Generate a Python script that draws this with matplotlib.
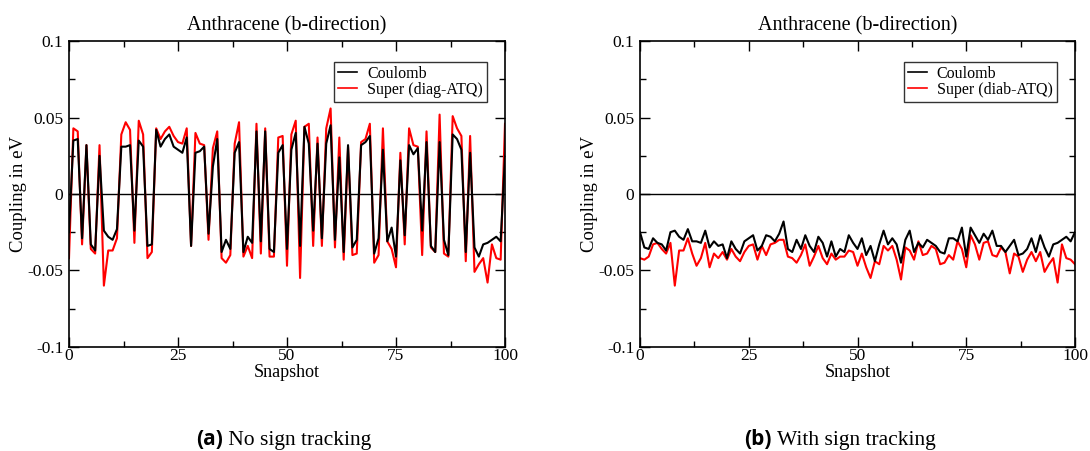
import numpy as np
import matplotlib
matplotlib.use("Agg")
import matplotlib.pyplot as plt
from matplotlib.ticker import MultipleLocator

# Electronic coupling (eV) per MD snapshot, raw sign as returned by each method
snapshots = list(range(101))
coulomb_raw = [
    -0.025, 0.035, 0.036, -0.029, 0.032, -0.033, -0.037, 0.025, -0.024, -0.028,
    -0.030, -0.023, 0.031, 0.031, 0.032, -0.024, 0.035, 0.031, -0.034, -0.033,
    0.042, 0.031, 0.036, 0.039, 0.031, 0.029, 0.027, 0.037, -0.034, 0.027,
    0.028, 0.031, -0.026, 0.018, 0.036, -0.038, -0.030, -0.036, 0.027, 0.034,
    -0.038, -0.028, -0.032, 0.041, -0.031, 0.041, -0.036, -0.038, 0.027, 0.032,
    -0.036, 0.029, 0.040, -0.034, 0.044, 0.033, -0.024, 0.033, -0.029, 0.033,
    0.045, -0.030, 0.024, -0.038, 0.032, -0.035, -0.030, 0.032, 0.034, 0.038,
    -0.039, -0.029, 0.029, -0.031, -0.022, -0.041, 0.022, -0.027, 0.032, 0.026,
    0.030, -0.024, 0.034, -0.034, -0.038, 0.034, -0.030, -0.040, 0.039, 0.036,
    0.029, -0.038, 0.027, -0.035, -0.041, -0.033, -0.032, -0.030, -0.028, -0.031,
    0.025,
]
super_raw = [
    -0.042, 0.043, 0.041, -0.033, 0.032, -0.036, -0.039, 0.032, -0.060, -0.037,
    -0.037, -0.029, 0.039, 0.047, 0.042, -0.032, 0.048, 0.039, -0.042, -0.038,
    0.043, 0.036, 0.041, 0.044, 0.038, 0.034, 0.033, 0.043, -0.034, 0.040,
    0.033, 0.032, -0.030, 0.030, 0.041, -0.042, -0.045, -0.040, 0.033, 0.047,
    -0.041, -0.034, -0.042, 0.046, -0.039, 0.043, -0.041, -0.041, 0.037, 0.038,
    -0.047, 0.039, 0.048, -0.055, 0.044, 0.046, -0.034, 0.037, -0.034, 0.043,
    0.056, -0.035, 0.037, -0.043, 0.031, -0.040, -0.039, 0.034, 0.036, 0.046,
    -0.045, -0.040, 0.043, -0.031, -0.036, -0.048, 0.027, -0.033, 0.043, 0.032,
    0.031, -0.040, 0.041, -0.035, -0.038, 0.052, -0.039, -0.041, 0.051, 0.043,
    0.038, -0.044, 0.038, -0.051, -0.046, -0.042, -0.058, -0.033, -0.042, -0.043,
    0.046,
]

x_ticks = [0, 25, 50, 75, 100]
y_ticks = [-0.1, -0.05, 0, 0.05, 0.1]
y_tick_labels = ["-0.1", "-0.05", "0", "0.05", "0.1"]
title = "Anthracene (b-direction)"
panel_tags = ["(a)", "(b)"]
panel_captions = ["No sign tracking", "With sign tracking"]
legend_labels = [("Coulomb", "Super (diag-ATQ)"), ("Coulomb", "Super (diab-ATQ)")]

# With sign tracking every coupling is brought to a common (negative) phase
coulomb_tracked = -np.abs(np.array(coulomb_raw))
super_tracked = -np.abs(np.array(super_raw))

SERIF = ["Liberation Serif", "DejaVu Serif"]
plt.rcParams["font.family"] = SERIF

W, H = 1090, 451
fig = plt.figure(figsize=(W / 100, H / 100), dpi=100)

def px_axes(x0, x1, y_top, y_bot):
    return fig.add_axes([x0 / W, 1 - y_bot / H, (x1 - x0) / W, (y_bot - y_top) / H])

ax_left = px_axes(69, 505, 41.3, 346.7)
ax_right = px_axes(640, 1075, 41.3, 346.7)

panels = [
    (ax_left, coulomb_raw, super_raw, legend_labels[0]),
    (ax_right, coulomb_tracked, super_tracked, legend_labels[1]),
]

for ax, c_vals, s_vals, labels in panels:
    ax.plot(snapshots, c_vals, color="black", lw=1.5, label=labels[0], zorder=3)
    ax.plot(snapshots, s_vals, color="#ff0000", lw=1.5, label=labels[1], zorder=2)
    ax.axhline(0, color="black", lw=1.0, zorder=1)
    ax.set_xlim(0, 100)
    ax.set_ylim(-0.1, 0.1)
    ax.set_xticks(x_ticks)
    ax.set_xticklabels([str(t) for t in x_ticks])
    ax.set_yticks(y_ticks)
    ax.set_yticklabels(y_tick_labels)
    ax.yaxis.set_minor_locator(MultipleLocator(0.025))
    ax.xaxis.set_minor_locator(MultipleLocator(12.5))
    ax.tick_params(which="both", direction="in", top=True, right=True,
                   labelsize=12.5, width=1.0, pad=4)
    ax.tick_params(which="major", length=7)
    ax.tick_params(which="minor", length=4)
    ax.tick_params(axis="x", pad=1)
    for sp in ax.spines.values():
        sp.set_linewidth(1.2)
    ax.set_title(title, fontsize=14.5, pad=8)
    ax.set_xlabel("Snapshot", fontsize=13, labelpad=0)
    ax.set_ylabel("Coupling in eV", fontsize=13.5)
    ax.yaxis.set_label_coords(-0.097, 0.5)
    leg = ax.legend(loc="upper right", bbox_to_anchor=(0.958, 0.932),
                    fontsize=11.5, frameon=True, fancybox=False,
                    handlelength=1.2, handletextpad=0.6, borderpad=0.25,
                    labelspacing=0.0, borderaxespad=0)
    leg.get_frame().set_edgecolor("black")
    leg.get_frame().set_linewidth(1.0)
    for ln in leg.get_lines():
        ln.set_linewidth(1.2)

# Sub-figure captions: bold sans tag followed by serif text
fig.canvas.draw()
renderer = fig.canvas.get_renderer()
caption_centers = [284, 840]
for cx, tag, cap in zip(caption_centers, panel_tags, panel_captions):
    t1 = fig.text(0, 0, tag, fontsize=15, fontweight="bold",
                  family=["Open Sans", "DejaVu Sans"], va="baseline")
    t2 = fig.text(0, 0, " " + cap, fontsize=15.5, family=SERIF, va="baseline")
    w1 = t1.get_window_extent(renderer).width
    w2 = t2.get_window_extent(renderer).width
    x0 = cx - (w1 + w2) / 2
    yb = 1 - 445 / H
    t1.set_position((x0 / W, yb))
    t2.set_position(((x0 + w1) / W, yb))

fig.savefig("out.png", dpi=100)
